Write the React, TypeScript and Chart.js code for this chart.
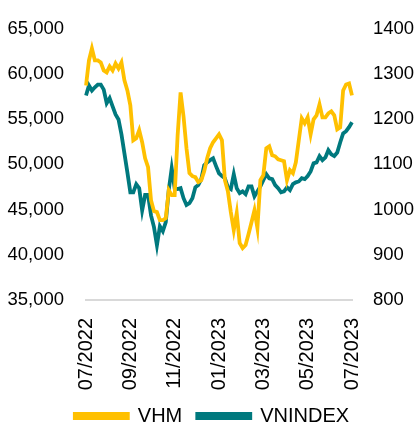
import React, { useEffect, useRef } from "react";
import { Chart, registerables } from "chart.js";

Chart.register(...registerables);

const tickLabels = ["07/2022", "09/2022", "11/2022", "01/2023", "03/2023", "05/2023", "07/2023"];
const tickEvery = 15;

const vhm = [
  58700, 61470, 62790, 61470, 61470, 61250, 60370, 60150, 60810, 60370,
  61140, 60590, 61250, 59270, 58160, 56510, 52650, 52870, 53750, 52430,
  50660, 49670, 46030, 44820, 44710, 43820, 43820, 44050, 47130, 46580,
  46580, 53200, 57940, 55290, 51770, 49010, 48680, 48570, 48020, 48240,
  49230, 50660, 51770, 52430, 52870, 53310, 52650, 48240, 47020, 44710,
  42720, 44600, 41290, 40740, 41070, 42280, 43600, 44930, 42940, 48240,
  48790, 51770, 51990, 50990, 50880, 50550, 50440, 50330, 48240, 49340,
  49010, 50220, 52650, 55070, 54520, 55180, 53310, 54960, 55400, 56620,
  55180, 55180, 55630, 55850, 55400, 53860, 54080, 58160, 58820, 58930,
  57610,
];

const vnindex = [
  1252, 1274, 1263, 1270, 1276, 1276, 1265, 1235, 1246, 1228,
  1210, 1199, 1166, 1124, 1082, 1038, 1038, 1056, 1047, 998,
  1032, 1032, 987, 961, 921, 963, 952, 972, 1043, 1091,
  1047, 1045, 1047, 1025, 1010, 1014, 1025, 1049, 1054, 1067,
  1098, 1104, 1109, 1113, 1096, 1080, 1074, 1069, 1049, 1045,
  1078, 1047, 1036, 1040, 1034, 1051, 1051, 1029, 1040, 1051,
  1065, 1078, 1069, 1067, 1054, 1047, 1038, 1040, 1049, 1043,
  1056, 1060, 1062, 1069, 1067, 1074, 1084, 1102, 1104, 1118,
  1109, 1115, 1131, 1122, 1118, 1126, 1148, 1168, 1173, 1182,
  1193,
];

const GOLD = "#FFC000";
const TEAL = "#00797E";
const FONT = "'Liberation Sans', Arial, sans-serif";

const legendHeight = {
  id: "legendHeight",
  beforeInit(chart: any) {
    const legend = chart.legend;
    if (!legend) return;
    const orig = legend.fit;
    legend.fit = function () {
      orig.call(this);
      this.height = 38;
    };
  },
};

const zeroPad = (s: any) => {
  s.paddingTop = 0;
  s.paddingBottom = 0;
  s.paddingLeft = 0;
  s.paddingRight = 0;
};

export default function App() {
  const ref = useRef<HTMLCanvasElement | null>(null);

  useEffect(() => {
    if (!ref.current) return;
    const labels = vhm.map((_, i) => (i % tickEvery === 0 ? tickLabels[i / tickEvery] ?? "" : ""));
    const chart = new Chart(ref.current, {
      type: "line",
      plugins: [legendHeight],
      data: {
        labels,
        datasets: [
          {
            label: "VHM",
            data: vhm,
            borderColor: GOLD,
            backgroundColor: GOLD,
            borderWidth: 3.8,
            pointRadius: 0,
            tension: 0,
            yAxisID: "y",
          },
          {
            label: "VNINDEX",
            data: vnindex,
            borderColor: TEAL,
            backgroundColor: TEAL,
            borderWidth: 3.8,
            pointRadius: 0,
            tension: 0,
            yAxisID: "y1",
          },
        ],
      },
      options: {
        animation: false,
        responsive: true,
        maintainAspectRatio: false,
        layout: { padding: { top: 28.5, left: 7, right: 0, bottom: 0 } },
        plugins: {
          tooltip: { enabled: false },
          legend: {
            position: "bottom",
            labels: {
              boxWidth: 53,
              boxHeight: 4,
              color: "#000",
              padding: 15,
              font: { family: FONT, size: 20 },
            },
          },
        },
        scales: {
          x: {
            type: "category",
            offset: false,
            grid: { display: false, drawTicks: false },
            border: { display: true, color: "#D9D9D9", width: 2 },
            afterFit: (s: any) => {
              s.height = 91;
              zeroPad(s);
            },
            ticks: {
              autoSkip: false,
              maxRotation: 90,
              minRotation: 90,
              padding: 18,
              color: "#000",
              font: { family: FONT, size: 20 },
            },
          },
          y: {
            position: "left",
            min: 35000,
            max: 65000,
            grid: { display: false, drawTicks: false },
            border: { display: false },
            afterFit: (s: any) => {
              s.width = 79;
              zeroPad(s);
            },
            ticks: {
              stepSize: 5000,
              padding: 22,
              color: "#000",
              font: { family: FONT, size: 18.5 },
              callback: (v: any) => Number(v).toLocaleString("en-US"),
            },
          },
          y1: {
            position: "right",
            min: 800,
            max: 1400,
            grid: { display: false, drawTicks: false },
            border: { display: false },
            afterFit: (s: any) => {
              s.width = 65;
              zeroPad(s);
            },
            ticks: {
              stepSize: 100,
              padding: 21,
              color: "#000",
              font: { family: FONT, size: 18.5 },
              callback: (v: any) => String(v),
            },
          },
        },
      },
    });
    return () => chart.destroy();
  }, []);

  return (
    <div style={{ position: "fixed", left: 0, top: 0, width: 417, height: 429, background: "#fff" }}>
      <canvas ref={ref} />
    </div>
  );
}
